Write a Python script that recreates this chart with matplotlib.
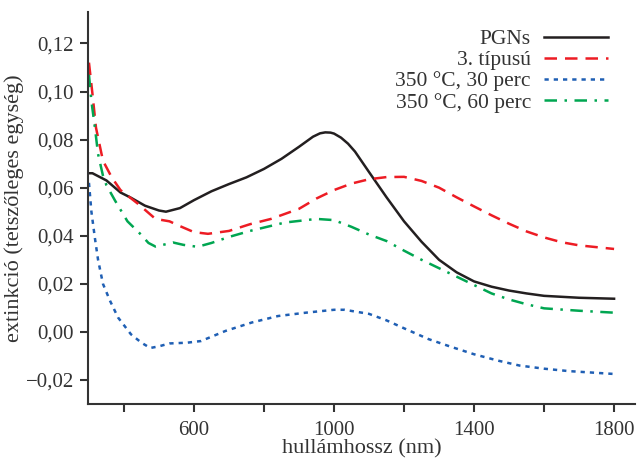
import matplotlib
matplotlib.use("Agg")
import matplotlib.pyplot as plt
import numpy as np

# ---- data ----
pgn_x = [300, 310, 350, 390, 420, 460, 500, 520, 560, 600, 650, 700, 750, 800, 850, 900, 940, 960, 975,
         990, 1000, 1020, 1040, 1060, 1100, 1150, 1200, 1250, 1300, 1350, 1400, 1450, 1500, 1550, 1600, 1700, 1800]
pgn_y = [0.066, 0.066, 0.063, 0.058, 0.0558, 0.0525, 0.0505, 0.050, 0.0515, 0.0548, 0.0585, 0.0615,
         0.0643, 0.0678, 0.072, 0.077, 0.0812, 0.0826, 0.083, 0.0829, 0.0825, 0.0808, 0.0783, 0.075,
         0.0665, 0.056, 0.046, 0.0375, 0.030, 0.0248, 0.021, 0.0188, 0.0172, 0.016, 0.015, 0.0142, 0.0138]

t3_x = [300, 310, 320, 340, 365, 390, 440, 490, 530, 560, 600, 640, 700, 760, 820, 900, 950, 1000,
        1050, 1100, 1150, 1200, 1250, 1300, 1350, 1400, 1450, 1500, 1550, 1600, 1650, 1700, 1800]
t3_y = [0.112, 0.099, 0.085, 0.0712, 0.0643, 0.059, 0.0533, 0.047, 0.046, 0.044, 0.0415, 0.0408,
        0.042, 0.0448, 0.047, 0.0512, 0.0555, 0.059, 0.0617, 0.0635, 0.0644, 0.0645, 0.0628, 0.060,
        0.056, 0.0522, 0.0485, 0.045, 0.0418, 0.0393, 0.0373, 0.036, 0.0345]

p30_x = [300, 307, 317, 326, 340, 360, 383, 420, 450, 475, 500, 530, 580, 620, 690, 765, 840, 920,
         1000, 1030, 1100, 1150, 1200, 1270, 1330, 1400, 1470, 1530, 1600, 1670, 1800]
p30_y = [0.062, 0.050, 0.039, 0.030, 0.020, 0.013, 0.006, -0.001, -0.0045, -0.0067, -0.006, -0.0048,
         -0.0045, -0.0038, 0.0004, 0.0039, 0.0066, 0.008, 0.0092, 0.0092, 0.0075, 0.0048, 0.0015,
         -0.003, -0.006, -0.0093, -0.012, -0.014, -0.0153, -0.0163, -0.0175]

p60_x = [300, 307, 317, 326, 340, 350, 375, 410, 445, 470, 490, 520, 540, 570, 610, 650, 700, 760,
         860, 950, 1000, 1050, 1100, 1150, 1200, 1250, 1300, 1350, 1400, 1450, 1500, 1550, 1600, 1700, 1800]
p60_y = [0.107, 0.096, 0.085, 0.074, 0.065, 0.061, 0.0545, 0.046, 0.041, 0.037, 0.0355, 0.0365,
         0.0372, 0.0362, 0.0354, 0.037, 0.0395, 0.042, 0.0455, 0.047, 0.0465, 0.0437, 0.0405, 0.0378,
         0.0338, 0.030, 0.0265, 0.023, 0.0195, 0.016, 0.0135, 0.0115, 0.0098, 0.0088, 0.008]

labels = ["PGNs", "3. típusú", "350 °C, 30 perc", "350 °C, 60 perc"]
xticks = [400, 600, 800, 1000, 1200, 1400, 1600, 1800]
xticklabels = ["", "600", "", "1000", "", "1400", "", "1800"]
yticks = [-0.02, 0.00, 0.02, 0.04, 0.06, 0.08, 0.10, 0.12]

plt.rcParams['font.family'] = ['Liberation Serif', 'DejaVu Serif']

fig = plt.figure(figsize=(6.37, 4.61), dpi=100)
ax = fig.add_axes([0.138, 0.1236, 0.859, 0.850])

lw = 1.8
ax.plot(pgn_x, pgn_y, color='#231f20', lw=lw, label=labels[0])
ax.plot(t3_x, t3_y, color='#ed1c24', lw=lw, dashes=(5, 3.2), label=labels[1])
ax.plot(p30_x, p30_y, color='#1f5fb4', lw=lw, dashes=(1.7, 2.0), label=labels[2])
ax.plot(p60_x, p60_y, color='#00a651', lw=lw, dashes=(5, 3, 1, 3), label=labels[3])

ax.set_xlim(297, 1860)
ax.set_ylim(-0.03, 0.133)
ax.set_xticks(xticks)
ax.set_xticklabels(xticklabels)
ax.set_yticks(yticks)
ax.set_yticklabels([("\u2212" if v < 0 else "") + f"{abs(v):.2f}".replace(".", ",") for v in yticks])

for s in ['top', 'right']:
    ax.spines[s].set_visible(False)
for s in ['left', 'bottom']:
    ax.spines[s].set_linewidth(1.5)
    ax.spines[s].set_color('#333333')
ax.tick_params(direction='out', length=6, width=1.5, color='#333333', labelsize=15,
               labelcolor='#333333', pad=4)
ax.tick_params(axis='x', pad=6)

ax.set_xlabel("hullámhossz (nm)", fontsize=16, color='#333333', labelpad=0)
ax.set_ylabel("extinkció (tetszőleges egység)", fontsize=16, color='#333333', labelpad=1)

leg = ax.legend(loc='upper right', bbox_to_anchor=(0.975, 0.99), frameon=False, fontsize=15.5,
                markerfirst=False, handlelength=3.0, labelspacing=0.05, handletextpad=0.6,
                borderaxespad=0.2)
for t in leg.get_texts():
    t.set_color('#333333')

fig.savefig("out.png", dpi=100)
